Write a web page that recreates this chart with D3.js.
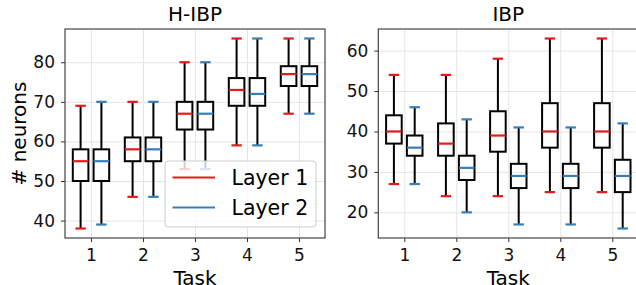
<!DOCTYPE html>
<html>
<head>
<meta charset="utf-8">
<script src="https://cdn.jsdelivr.net/npm/d3@7"></script>
<style>
  body { margin: 0; background: #fff; }
  svg { display: block; font-family: "DejaVu Sans", sans-serif; }
  .tick text { font-size: 17px; fill: #111; }
  .axis path, .axis line { stroke: #333; }
  .grid line { stroke: #e5e5e5; }
  .grid path { display: none; }
</style>
</head>
<body>
<div id="chart"></div>
<script>
// box stats per task: [low whisker, q1, median, q3, high whisker]
var tasks = [1, 2, 3, 4, 5];
var hibpLayer1 = [[38, 50, 55, 58, 69], [46, 55, 58, 61, 70], [53, 63, 67, 70, 80], [59, 69, 73, 76, 86], [67, 74, 77, 79, 86]];
var hibpLayer2 = [[39, 50, 55, 58, 70], [46, 55, 58, 61, 70], [53, 63, 67, 70, 80], [59, 69, 72, 76, 86], [67, 74, 77, 79, 86]];
var ibpLayer1 = [[27, 37, 40, 44, 54], [24, 34, 37, 42, 54], [24, 35, 39, 45, 58], [25, 36, 40, 47, 63], [25, 36, 40, 47, 63]];
var ibpLayer2 = [[27, 34, 36, 39, 46], [20, 28, 31, 34, 43], [17, 26, 29, 32, 41], [17, 26, 29, 32, 41], [16, 25, 29, 33, 42]];
var hibpTicks = [40, 50, 60, 70, 80];
var ibpTicks = [20, 30, 40, 50, 60];
var layerNames = ["Layer 1", "Layer 2"];
var layerColors = ["#e41a1c", "#377eb8"];

var width = 636, height = 285;
var svg = d3.select("#chart").append("svg")
  .attr("width", width)
  .attr("height", height);

function drawPanel(opts) {
  var x0 = opts.left, y0 = 29, w = 260, h = 209;
  var g = svg.append("g").attr("transform", `translate(${x0},${y0})`);

  var all = d3.merge(opts.series.flat());
  var lo = d3.min(all), hi = d3.max(all), pad = (hi - lo) * 0.05;

  var x = d3.scaleLinear().domain([0.5, 5.5]).range([0, w]);
  var y = d3.scaleLinear().domain([lo - pad, hi + pad]).range([h, 0]);

  // grid
  g.append("g").attr("class", "grid")
    .attr("transform", `translate(0,${h})`)
    .call(d3.axisBottom(x).tickValues(tasks).tickSize(-h).tickFormat(""));
  g.append("g").attr("class", "grid")
    .call(d3.axisLeft(y).tickValues(opts.ticks).tickSize(-w).tickFormat(""));

  var offsets = [-0.2, 0.2];
  var boxW = x(0.3) - x(0), capW = x(0.2) - x(0);

  opts.series.forEach(function (ser, si) {
    var col = layerColors[si];
    var grp = g.append("g").selectAll("g")
      .data(ser.map(function (d, i) { return { t: tasks[i], s: d }; }))
      .enter().append("g");
    var cx = function (d) { return x(d.t + offsets[si]); };

    grp.append("line")
      .attr("x1", cx).attr("x2", cx)
      .attr("y1", function (d) { return y(d.s[0]); })
      .attr("y2", function (d) { return y(d.s[1]); })
      .attr("stroke", "#000").attr("stroke-width", 2);
    grp.append("line")
      .attr("x1", cx).attr("x2", cx)
      .attr("y1", function (d) { return y(d.s[3]); })
      .attr("y2", function (d) { return y(d.s[4]); })
      .attr("stroke", "#000").attr("stroke-width", 2);
    grp.append("rect")
      .attr("x", function (d) { return cx(d) - boxW / 2; })
      .attr("y", function (d) { return y(d.s[3]); })
      .attr("width", boxW)
      .attr("height", function (d) { return y(d.s[1]) - y(d.s[3]); })
      .attr("fill", "none").attr("stroke", "#000").attr("stroke-width", 2);
    [0, 4, 2].forEach(function (k) {
      var half = k == 2 ? boxW / 2 : capW / 2;
      grp.append("line")
        .attr("x1", function (d) { return cx(d) - half; })
        .attr("x2", function (d) { return cx(d) + half; })
        .attr("y1", function (d) { return y(d.s[k]); })
        .attr("y2", function (d) { return y(d.s[k]); })
        .attr("stroke", col).attr("stroke-width", 2.2);
    });
  });

  // axes
  g.append("g").attr("class", "axis")
    .attr("transform", `translate(0,${h})`)
    .call(d3.axisBottom(x).tickValues(tasks).tickSize(4).tickPadding(7).tickFormat(d3.format("d")))
    .call(function (a) { a.select(".domain").remove(); });
  g.append("g").attr("class", "axis")
    .call(d3.axisLeft(y).tickValues(opts.ticks).tickSize(4).tickPadding(6))
    .call(function (a) { a.select(".domain").remove(); });
  g.selectAll(".axis text").attr("font-family", "DejaVu Sans");

  g.append("rect")
    .attr("width", w).attr("height", h)
    .attr("fill", "none").attr("stroke", "#444").attr("stroke-width", 1.2);

  g.append("text")
    .attr("x", w / 2).attr("y", -8.3)
    .attr("text-anchor", "middle")
    .attr("font-size", "20px")
    .text(opts.title);

  g.append("text")
    .attr("x", w / 2).attr("y", h + 47)
    .attr("text-anchor", "middle")
    .attr("font-size", "20px")
    .text("Task");

  return g;
}

var left = drawPanel({ left: 65, title: "H-IBP", ticks: hibpTicks, series: [hibpLayer1, hibpLayer2] });
drawPanel({ left: 378.3, title: "IBP", ticks: ibpTicks, series: [ibpLayer1, ibpLayer2] });

svg.append("text")
  .attr("transform", `translate(25.5,133.5) rotate(-90)`)
  .attr("text-anchor", "middle")
  .attr("font-size", "20px")
  .text("# neurons");

// legend
var leg = left.append("g").attr("transform", "translate(100,132)");
leg.append("rect")
  .attr("width", 151).attr("height", 66)
  .attr("rx", 3).attr("ry", 3)
  .attr("fill", "#fff").attr("fill-opacity", 0.8)
  .attr("stroke", "#ccc").attr("stroke-width", 1);
layerNames.forEach(function (name, i) {
  leg.append("line")
    .attr("x1", 7.5).attr("x2", 50)
    .attr("y1", 16.5 + i * 30).attr("y2", 16.5 + i * 30)
    .attr("stroke", layerColors[i]).attr("stroke-width", 2.2);
  leg.append("text")
    .attr("x", 66.5).attr("y", 24 + i * 30)
    .attr("font-size", "20.5px")
    .text(name);
});
</script>
</body>
</html>
